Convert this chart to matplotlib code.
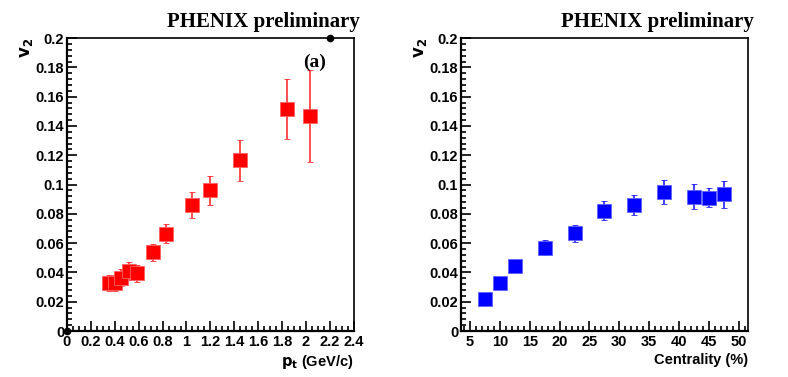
import matplotlib
matplotlib.use("Agg")
import matplotlib.pyplot as plt
from matplotlib.ticker import MultipleLocator, FuncFormatter

# Left panel: v2 vs pt
pt = [0.35, 0.40, 0.45, 0.52, 0.59, 0.72, 0.83, 1.05, 1.20, 1.45, 1.84, 2.03]
v2_pt = [0.033, 0.033, 0.0365, 0.041, 0.0395, 0.0537, 0.0665, 0.086, 0.096, 0.1167, 0.1515, 0.1468]
err_pt = [0.0055, 0.0055, 0.006, 0.006, 0.0058, 0.0056, 0.0066, 0.009, 0.010, 0.014, 0.0203, 0.0316]
extra_x = [0.0, 2.2]
extra_y = [0.0, 0.2]

# Right panel: v2 vs centrality
cent = [7.5, 10, 12.5, 17.5, 22.5, 27.5, 32.5, 37.5, 42.5, 45, 47.5]
v2_c = [0.0216, 0.0327, 0.0442, 0.057, 0.0667, 0.0821, 0.086, 0.0949, 0.0917, 0.091, 0.0933]
err_c = [0.002, 0.002, 0.002, 0.005, 0.006, 0.0066, 0.007, 0.008, 0.0085, 0.0065, 0.009]

title = "PHENIX preliminary"

fig = plt.figure(figsize=(7.88, 3.77), dpi=100)
axL = fig.add_axes([0.085, 0.122, 0.364, 0.777])
axR = fig.add_axes([0.585, 0.122, 0.364, 0.777])

sans = "Liberation Sans"
serif = "Liberation Serif"

def fmt(v, pos):
    s = ("%.2f" % v).rstrip("0").rstrip(".")
    return s

def style(ax, xlim, xmaj, xmin):
    ax.set_ylim(0, 0.2)
    ax.set_xlim(*xlim)
    ax.yaxis.set_major_locator(MultipleLocator(0.02))
    ax.yaxis.set_minor_locator(MultipleLocator(0.004))
    ax.xaxis.set_major_locator(MultipleLocator(xmaj))
    ax.xaxis.set_minor_locator(MultipleLocator(xmin))
    ax.tick_params(which="both", direction="in", top=False, right=False, width=1.2)
    ax.tick_params(which="major", length=7)
    ax.tick_params(which="minor", length=3.5)
    ax.tick_params(axis="x", which="major", pad=3)
    ax.tick_params(axis="y", which="major", pad=2)
    for sp in ["left", "bottom"]:
        ax.spines[sp].set_linewidth(1.6)
    for sp in ["top", "right"]:
        ax.spines[sp].set_linewidth(1.2)
    ax.yaxis.set_major_formatter(FuncFormatter(fmt))
    ax.xaxis.set_major_formatter(FuncFormatter(fmt))
    for lab in ax.get_xticklabels() + ax.get_yticklabels():
        lab.set_fontfamily(sans)
        lab.set_fontweight("bold")
        lab.set_fontsize(10.5)
    ax.text(-0.14, 1.0, r"$\mathbf{v}_{\mathbf{2}}$", transform=ax.transAxes, rotation=90,
            ha="center", va="top", fontsize=12, fontfamily=sans, fontweight="bold")
    ax.text(1.02, 1.02, title, transform=ax.transAxes, ha="right", va="bottom",
            fontsize=15, fontfamily=serif, fontweight="bold")

style(axL, (0, 2.4), 0.2, 0.05)
style(axR, (3.5, 51.5), 5, 1)

axL.errorbar(pt, v2_pt, yerr=err_pt, fmt="s", color="red", ecolor="#ff3030",
             markersize=9.5, markeredgecolor="#ff6060", markeredgewidth=0.6,
             elinewidth=1.2, capsize=2.5, capthick=1.2, zorder=3)
axL.plot(extra_x, extra_y, "o", color="black", markersize=4.5, clip_on=False, zorder=5)
axL.text(0.864, 0.918, "(a)", transform=axL.transAxes, ha="center", va="center",
         fontsize=14, fontfamily=serif, fontweight="bold")

axR.errorbar(cent, v2_c, yerr=err_c, fmt="s", color="blue", ecolor="#2020ff",
             markersize=9.5, markeredgecolor="#6060ff", markeredgewidth=0.6,
             elinewidth=1.2, capsize=2.5, capthick=1.2, zorder=3)

axL.set_xlabel(r"$\mathbf{p}_{\mathbf{t}}$ (GeV/c)", fontsize=10.5, fontfamily=sans,
               fontweight="bold", loc="right", labelpad=3)
axR.set_xlabel("Centrality (%)", fontsize=10.5, fontfamily=sans,
               fontweight="bold", loc="right", labelpad=3)

fig.savefig("out.png", dpi=100)
